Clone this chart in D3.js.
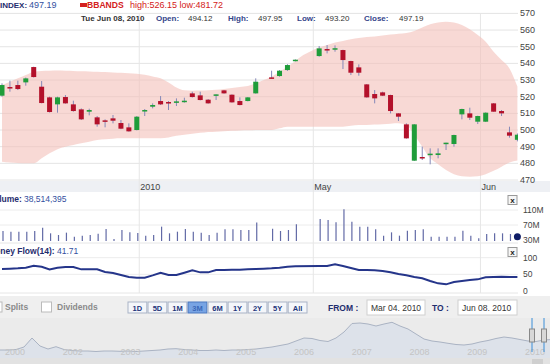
<!DOCTYPE html>
<html>
<head>
<meta charset="utf-8">
<script src="https://cdn.jsdelivr.net/npm/d3@7"></script>
<style>
  body { margin: 0; background: #fff; }
  text { font-family: "Liberation Sans", Arial, sans-serif; }
</style>
</head>
<body>
<svg id="chart" width="550" height="364"></svg>
<script>
// one slot per trading day on screen, null where the chart shows nothing
const opens  = [520.6,525.8,527,528.6,537.8,526,519.6,515.4,519.8,515.4,512.4,511,507.6,505.8,507,504.2,501.6,500,511.8,514,
                517.4,516.8,517,517.4,522,520.8,518.2,520.8,523.8,521.2,517.4,517.4,522,null,531.6,532.4,536,541.4,null,null,
                544.4,548.6,548.9,548,541.4,537.6,527.4,521.6,522.6,521,510,503.4,481.6,483.8,485.4,485,491.6,491.6,509.4,510,
                505,505,516,511.4,498.6,494.12];
const highs  = [528,529.6,529.6,531.5,538,529.4,520,520,521,517.6,513,512.8,508.4,506.4,509,506,504,508.4,512.6,516,
                520.4,517.4,519,519.4,523,523,518.6,521.4,524,521.4,519.6,519.8,531,null,535.6,536,539.5,542.4,null,null,
                550.4,551,550.8,548.2,541.6,539.4,527.6,524,523,521.2,510.2,504,503.6,490,489,489,492.4,497.2,512.8,513.4,
                508.6,510.6,516.2,512,502,497.95];
const lows   = [520,523,524,526.6,531.5,516,510.5,510.4,515.8,511,506,508.8,502,501.6,504,500.5,499,499.8,508.4,513,
                515,512,514.4,516.4,519.5,517.8,515.8,518,521.8,516.4,514.8,517.2,521.8,null,531,532,535.5,541.2,null,null,
                544,546,547,536.6,533,532.6,519.4,516,520.4,510,505.4,494.8,481.4,482,479.4,483,488,490,506.4,506,
                503.6,504.8,511,508.4,495.4,493.2];
const closes = [527,525.4,524.6,531,531.8,516.2,510.8,519.6,516,511.4,506.4,512,503.4,505.4,505.6,500.8,499.2,508,512,515,
                515.4,516.4,517.2,517.6,519.8,518,516,521.4,522,516.6,515,519.6,529,null,531.2,535.6,539,542.2,null,null,
                549,548.4,549.1,542,534.4,534.4,519.6,519,520.6,511.4,508,495,503.4,483.4,485.8,486,492.4,497,512.6,507.4,
                508.4,510.4,511,510,496.6,497.19];
// volume in millions
const volumes = [54,52.2,52.2,52.2,54,62.9,47.8,43.3,49.6,38.9,41.6,43.3,46.9,59.3,32.7,56.7,50.4,48.7,41.6,43.3,
                 65.6,47.8,52.2,59.3,52.2,49.6,43.3,49.6,58.4,58.4,56.7,56.7,77,null,60,54,56.7,71.8,null,null,
                 86,83.3,77.1,111.9,78.9,65.6,65.6,58.4,41.6,50.4,41.6,54.9,56.7,58.4,38.9,38.9,38.9,38.9,54.9,41.6,
                 34.4,46,47.8,47.8,46,38.5];
const moneyFlow = [66,67,68,70,76,73,65,70,72,72,65,65,65,57,54,48,42,40,40,47,
                   55,48,48,55,62,56,56,63,63,64,64,65,66,67,68,70,73,74,null,null,
                   75,75,80,75,69,63,63,62,60,56,51,47,42,38,30,23,20,27,30,33,
                   35,41,42,43,42,41.71];
const bbUpper = [527,529,531,533,535,535.5,535.6,535.7,535.6,535.5,535.3,535.2,535,534.8,534.6,534.4,534.1,533.8,533.2,532.2,
                 531,528.5,525.5,523.8,523.6,523.7,523.9,524.1,524.6,525.2,525.8,526.4,528,530,532,535,538,541.5,545,547.5,
                 549.5,551,552.5,553.5,554.5,555.2,555.8,556.2,556.8,557.3,557.8,558.3,559.5,561.5,563.5,564.5,565,564.5,563,560.5,
                 557,553,547,542,537,526.15];
const bbLower = [481,480.5,480.2,480,480,483,486,488.5,490,491,492,493,494,494.5,494.8,495,495,495,495,495,
                 495,495.5,496.5,497.2,497.8,498.3,498.8,499,499.3,499.5,499.7,499.8,500,500,500,501,502,502,502,502,
                 502,502,502,502,502.5,503,503,503.3,503.5,503.8,504,503,497,490,483,479.5,476,473.5,472.3,472,
                 472.3,473.5,475.5,478,480.5,481.72];

const monthLabels = ["2010", "May", "Jun"];
const monthSlots = [17.31, 39.26, 60.34];
const priceTicks = [470, 480, 490, 500, 510, 520, 530, 540, 550, 560, 570];
const volumeTicks = [30, 70, 110];
const flowTicks = [0, 50, 100];
const rangeButtons = ["1D", "5D", "1M", "3M", "6M", "1Y", "2Y", "5Y", "All"];
const overviewLabels = ["2000", "2002", "2003", "2004", "2005", "2006", "2007", "2008", "2009", "2010"];
// long range strip, height above the strip floor, sampled left to right
const overviewLevel = [8,8,8.5,11,20,12,9,11.3,8.5,7.5,7,7,6.5,7,7,6.7,7,6.5,7,7.5,
                       8,9,9.3,8.5,8,7.5,7.5,8,7.5,8,8,8.5,9,10,11,12.5,14,17,20,19.5,
                       17.5,16.5,20,26,34.5,35,34,32,34,35.7,32,29,24,19,17,16,14.7,13.5,13,14,
                       16,17.5,19.5,21,20,18.5,17,16.5,18,18.5];

const navy = "#1f2d6e", blue = "#3350a0", red = "#d42020", keyBlue = "#34458a";
const svg = d3.select("#chart");
const plotRight = 518;

const x = d3.scaleLinear().domain([0, 65]).range([2, 517.4]);
const y = d3.scaleLinear().domain([470, 570]).range([180, 13.4]);
const yVol = d3.scaleLinear().domain([30, 110]).range([240, 210]);
const yFlow = d3.scaleLinear().domain([0, 100]).range([291, 257.7]);
const slots = d3.range(opens.length);

svg.append("defs").append("clipPath").attr("id", "plotClip")
  .append("rect").attr("x", 0).attr("y", 0).attr("width", plotRight).attr("height", 300);

// price grid
svg.append("g").selectAll("line").data(priceTicks).join("line")
  .attr("x1", 0).attr("x2", plotRight)
  .attr("y1", d => y(d)).attr("y2", d => y(d))
  .attr("stroke", "#e4e4e4");

// x axis band
svg.append("rect").attr("x", 0).attr("y", 181).attr("width", 550).attr("height", 11)
  .attr("fill", "#eef0f4");

// volume / money flow grids
svg.append("g").selectAll("line").data([110, 70]).join("line")
  .attr("x1", 0).attr("x2", plotRight)
  .attr("y1", d => yVol(d)).attr("y2", d => yVol(d))
  .attr("stroke", "#ececec");
svg.append("g").selectAll("line").data([100, 50]).join("line")
  .attr("x1", 0).attr("x2", plotRight)
  .attr("y1", d => yFlow(d)).attr("y2", d => yFlow(d))
  .attr("stroke", "#ececec");
svg.append("g").selectAll("line").data([243, 293]).join("line")
  .attr("x1", 0).attr("x2", plotRight)
  .attr("y1", d => d).attr("y2", d => d)
  .attr("stroke", "#e6e6e6");

// month lines through every panel
svg.append("g").selectAll("line").data(monthSlots).join("line")
  .attr("x1", d => x(d)).attr("x2", d => x(d))
  .attr("y1", 13).attr("y2", 293)
  .attr("stroke", "#e6e6e6");

svg.append("g").selectAll("text").data(monthLabels).join("text")
  .attr("x", (d, i) => x(monthSlots[i]) + 1)
  .attr("y", 190)
  .attr("font-size", 9).attr("fill", "#444")
  .text(d => d);

const plot = svg.append("g").attr("clip-path", "url(#plotClip)");

// bollinger band
plot.append("path")
  .datum(slots)
  .attr("fill", "#f4c0b9").attr("fill-opacity", 0.6)
  .attr("d", d3.area()
    .x(i => x(i))
    .y0(i => y(bbLower[i]))
    .y1(i => y(bbUpper[i]))
    .curve(d3.curveMonotoneX));

// candles
const candles = plot.append("g").selectAll("g")
  .data(slots.filter(i => opens[i] != null)).join("g");
candles.append("line")
  .attr("x1", i => x(i)).attr("x2", i => x(i))
  .attr("y1", i => y(highs[i])).attr("y2", i => y(lows[i]))
  .attr("stroke", "#8588b8").attr("stroke-width", 1);
candles.append("rect")
  .attr("x", i => x(i) - 2.5).attr("width", 5)
  .attr("y", i => y(Math.max(opens[i], closes[i])))
  .attr("height", i => Math.max(1.5, Math.abs(y(opens[i]) - y(closes[i]))))
  .attr("fill", i => closes[i] >= opens[i] ? "#1f9d3a" : "#b3112b");

// volume bars
plot.append("g").selectAll("line")
  .data(slots.filter(i => volumes[i] != null && i < slots.length - 1)).join("line")
  .attr("x1", i => x(i) + 1).attr("x2", i => x(i) + 1)
  .attr("y1", 241).attr("y2", i => yVol(volumes[i]))
  .attr("stroke", "#626aa6").attr("stroke-width", 1.2);
svg.append("circle")
  .attr("cx", x(slots.length - 1)).attr("cy", yVol(volumes[slots.length - 1]))
  .attr("r", 3.5).attr("fill", "#0f1c66");

// money flow line
plot.append("path")
  .datum(slots.filter(i => moneyFlow[i] != null))
  .attr("fill", "none").attr("stroke", "#25358a").attr("stroke-width", 2)
  .attr("d", d3.line().x(i => x(i)).y(i => yFlow(moneyFlow[i])));

// right axes
svg.append("g").selectAll("text").data(priceTicks).join("text")
  .attr("x", 520).attr("y", d => y(d) + 3)
  .attr("font-size", 9).attr("fill", "#444")
  .text(d => d);
svg.append("g").selectAll("text").data(volumeTicks).join("text")
  .attr("x", 523).attr("y", d => yVol(d) + 3)
  .attr("font-size", 8.5).attr("fill", "#444")
  .text(d => d + "M");
svg.append("g").selectAll("text").data(flowTicks).join("text")
  .attr("x", 523).attr("y", d => yFlow(d) + 3)
  .attr("font-size", 8.5).attr("fill", "#444")
  .text(d => d);

// close boxes
svg.append("g").selectAll("g").data([195.5, 247.5]).join("g")
  .each(function (top) {
    const g = d3.select(this);
    g.append("rect").attr("x", 508).attr("y", top).attr("width", 9).attr("height", 9)
      .attr("fill", "#f6f6f6").attr("stroke", "#999");
    g.append("text").attr("x", 512.5).attr("y", top + 7)
      .attr("text-anchor", "middle").attr("font-size", 8).attr("font-weight", "bold")
      .attr("fill", "#222").text("x");
  });

// text pieces: [text, x, colour, bold]
function label(yPos, size, parts) {
  for (const [txt, xPos, color, bold] of parts) {
    svg.append("text").attr("x", xPos).attr("y", yPos).attr("font-size", size)
      .attr("fill", color).attr("font-weight", bold ? "bold" : "normal").text(txt);
  }
}
label(8, 8, [["INDEX:", 0, navy, true]]);
label(8, 9, [["497.19", 29, blue, false]]);
svg.append("rect").attr("x", 80).attr("y", 3).attr("width", 7).attr("height", 4).attr("fill", red);
label(8, 8.6, [["BBANDS", 87, red, true]]);
label(8, 9, [["high:526.15 low:481.72", 130, red, false]]);
label(21, 8, [["Tue Jun 08, 2010", 81, "#333", true], ["Open:", 156, keyBlue, true],
  ["494.12", 188, "#333", false], ["High:", 228, keyBlue, true], ["497.95", 258, "#333", false],
  ["Low:", 297, keyBlue, true], ["493.20", 325, "#333", false],
  ["Close:", 364, keyBlue, true], ["497.19", 399, "#333", false]]);
label(202, 8.5, [["Volume:", -11, navy, true], ["38,514,395", 24, blue, false]]);
label(254, 8.5, [["Money Flow(14):", -12, navy, true], ["41.71", 57, blue, false]]);

// controls strip
svg.append("rect").attr("x", 0).attr("y", 296).attr("width", 550).attr("height", 22).attr("fill", "#efefef");
svg.append("rect").attr("x", -8).attr("y", 302).attr("width", 10).attr("height", 10)
  .attr("fill", "#fff").attr("stroke", "#bbb");
svg.append("rect").attr("x", 41.5).attr("y", 302).attr("width", 10).attr("height", 10)
  .attr("fill", "#fff").attr("stroke", "#bbb");
label(310, 8.5, [["Splits", 5, "#8a8a8a", true], ["Dividends", 57, "#8a8a8a", true]]);

const bx = d3.scaleBand().domain(rangeButtons).range([128, 307]).paddingInner(0.06);
const btn = svg.append("g").selectAll("g").data(rangeButtons).join("g");
btn.append("rect")
  .attr("x", d => bx(d)).attr("y", 302).attr("width", bx.bandwidth()).attr("height", 11)
  .attr("fill", d => d === "3M" ? "#78a4e4" : "#f4f6fa")
  .attr("stroke", d => d === "3M" ? "#4a78c0" : "#a9b3c6");
btn.append("text")
  .attr("x", d => bx(d) + bx.bandwidth() / 2).attr("y", 310.5)
  .attr("text-anchor", "middle").attr("font-size", 7.5).attr("font-weight", "bold")
  .attr("fill", d => d === "3M" ? "#3a68b8" : "#23357a")
  .text(d => d);

label(310.5, 8.5, [["FROM :", 328, navy, true], ["TO :", 432, navy, true]]);
const boxes = [[367, 58, "Mar 04. 2010"], [458, 59, "Jun 08. 2010"]];
for (const [bxl, bw, txt] of boxes) {
  svg.append("rect").attr("x", bxl).attr("y", 300).attr("width", bw).attr("height", 15)
    .attr("fill", "#fff").attr("stroke", "#d0d0d0");
  label(311, 8.5, [[txt, bxl + 4, "#333", false]]);
}

// overview strip
svg.append("rect").attr("x", 0).attr("y", 318).attr("width", 550).attr("height", 40).attr("fill", "#ebebeb");
const ox = d3.scaleLinear().domain([0, overviewLevel.length - 1]).range([0, 552]);
const oy = d3.scaleLinear().domain([0, 40]).range([358, 318]);
svg.append("path").datum(overviewLevel)
  .attr("fill", "#dde2ea")
  .attr("d", d3.area().x((d, i) => ox(i)).y0(358).y1(d => oy(d)));
svg.append("path").datum(overviewLevel)
  .attr("fill", "none").attr("stroke", "#aab3c3").attr("stroke-width", 1)
  .attr("d", d3.line().x((d, i) => ox(i)).y(d => oy(d)));
const lx = d3.scaleLinear().domain([0, overviewLabels.length - 1]).range([5, 525]);
svg.append("g").selectAll("text").data(overviewLabels).join("text")
  .attr("x", (d, i) => lx(i)).attr("y", 355)
  .attr("font-size", 9).attr("fill", "#c4c4c4")
  .text(d => d);
svg.append("rect").attr("x", 0).attr("y", 358).attr("width", 550).attr("height", 6).attr("fill", "#e2e2e2");
svg.append("rect").attr("x", 532).attr("y", 359).attr("width", 11).attr("height", 5).attr("fill", "#cfcfcf");
for (const hx of [532, 544]) {
  svg.append("line").attr("x1", hx).attr("x2", hx).attr("y1", 318).attr("y2", 352)
    .attr("stroke", "#3b8ed8");
  svg.append("rect").attr("x", hx - 2.5).attr("y", 329).attr("width", 5).attr("height", 13)
    .attr("fill", "#d8d8d8").attr("stroke", "#888");
}
</script>
</body>
</html>
